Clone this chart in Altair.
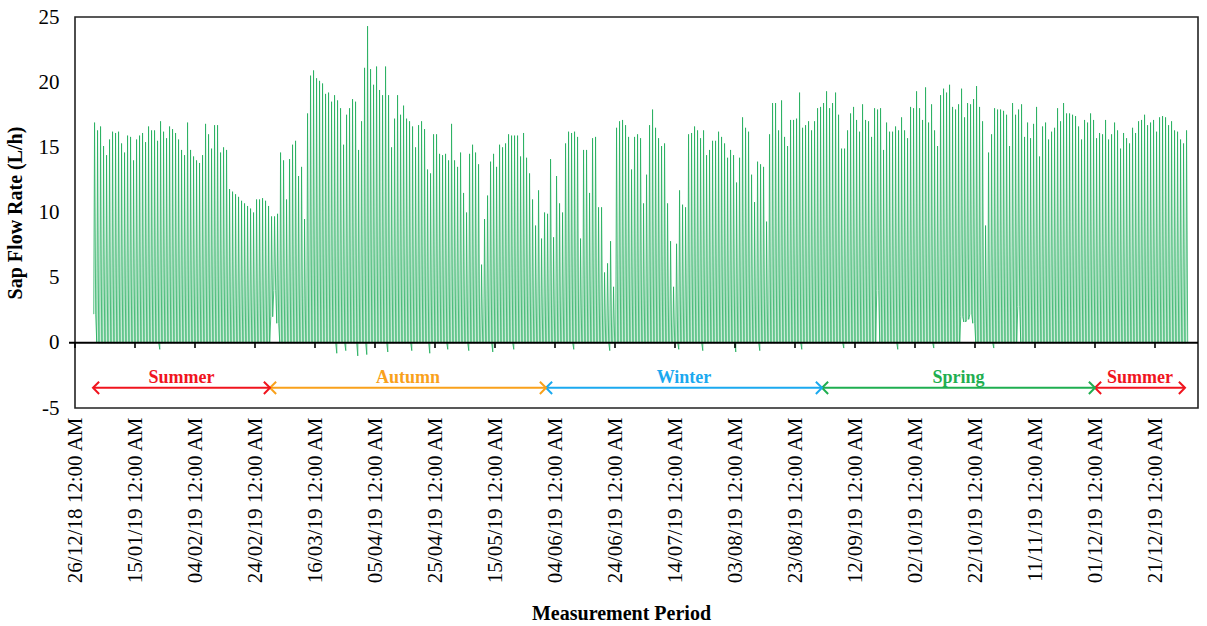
import altair as alt
import pandas as pd

# ---------------- data ----------------
# daily peak sap flow (L/h), 01/01/2019 ... 31/12/2019
peaks = [
    16.9, 16.3, 16.6, 15.1, 14.4, 15.6, 16.2, 16.1, 16.2, 15.3,
    14.6, 15.9, 15.8, 14.0, 15.6, 15.9, 16.1, 15.4, 16.6, 16.3,
    16.3, 15.5, 17.0, 16.2, 15.7, 16.6, 16.4, 16.1, 15.6, 14.8,
    14.4, 16.9, 14.8, 14.3, 14.0, 13.8, 14.4, 16.8, 16.0, 14.9,
    16.7, 16.7, 14.6, 15.0, 14.8, 11.8, 11.6, 11.4, 11.2, 10.9,
    10.7, 10.5, 10.3, 10.0, 11.0, 11.0, 11.1, 10.9, 10.5, 9.7,
    9.7, 9.9, 14.6, 14.0, 11.0, 14.1, 15.2, 15.5, 12.8, 13.5,
    9.5, 17.6, 20.5, 20.9, 20.3, 20.1, 19.9, 19.1, 19.2, 18.5,
    19.0, 18.6, 18.0, 15.2, 17.5, 18.0, 18.7, 18.5, 14.8, 17.0,
    21.1, 24.3, 21.0, 19.8, 21.2, 19.4, 19.0, 21.2, 19.0, 15.0,
    17.2, 19.0, 17.5, 18.2, 17.2, 17.0, 16.6, 15.0, 16.7, 17.0,
    16.4, 13.3, 13.0, 16.0, 16.0, 14.5, 14.4, 14.5, 14.0, 16.8,
    14.0, 13.5, 14.6, 11.5, 10.0, 14.5, 15.2, 14.6, 13.7, 6.0,
    9.5, 11.3, 13.9, 14.5, 13.5, 15.2, 15.0, 15.3, 16.0, 15.9,
    15.9, 15.9, 14.3, 16.1, 14.2, 13.0, 11.0, 9.0, 11.7, 8.0,
    10.0, 9.9, 14.1, 8.1, 12.8, 10.7, 10.0, 15.3, 16.2, 16.1,
    16.2, 15.8, 8.0, 14.8, 14.8, 11.5, 15.7, 15.8, 10.4, 10.4,
    5.4, 6.1, 7.8, 4.3, 16.5, 17.0, 17.1, 16.7, 15.8, 13.3,
    15.8, 16.0, 15.7, 10.7, 12.9, 16.7, 17.9, 16.5, 15.7, 15.1,
    15.3, 10.7, 7.8, 4.3, 7.6, 11.7, 10.6, 10.4, 16.0, 16.1,
    16.6, 16.3, 15.7, 16.3, 14.4, 14.8, 15.5, 15.5, 16.2, 15.8,
    15.3, 14.2, 14.8, 14.4, 12.3, 14.2, 17.3, 16.5, 16.2, 12.9,
    10.8, 13.9, 13.7, 13.5, 9.3, 16.0, 18.4, 18.4, 16.3, 18.6,
    15.8, 15.1, 17.1, 17.1, 17.2, 19.2, 16.5, 16.7, 17.0, 16.3,
    17.0, 18.0, 18.1, 18.4, 19.3, 18.0, 18.4, 19.2, 17.5, 14.9,
    14.9, 16.3, 17.6, 18.1, 17.1, 16.2, 18.3, 17.1, 17.0, 15.8,
    18.0, 17.9, 18.0, 14.8, 16.9, 16.2, 16.2, 16.6, 16.3, 17.3,
    16.3, 15.7, 18.1, 18.0, 19.3, 18.0, 17.1, 19.6, 16.9, 18.3,
    16.3, 15.1, 19.0, 19.5, 19.2, 19.8, 18.1, 17.9, 18.3, 19.5,
    17.3, 18.4, 18.3, 18.7, 19.7, 18.1, 17.0, 9.0, 14.6, 16.0,
    18.0, 17.9, 17.9, 17.8, 17.5, 15.1, 18.4, 17.5, 17.9, 18.3,
    15.8, 16.9, 15.7, 16.8, 18.1, 14.3, 16.6, 16.9, 15.6, 16.2,
    16.5, 18.0, 17.0, 18.4, 17.6, 17.6, 17.5, 17.4, 16.6, 15.6,
    17.1, 16.9, 17.6, 17.1, 15.7, 16.1, 16.0, 17.1, 15.6, 16.0,
    16.9, 16.3, 14.9, 16.1, 15.7, 15.3, 16.5, 16.1, 17.0, 17.1,
    17.5, 16.7, 16.9, 17.1, 16.2, 17.3, 17.4, 17.3, 16.7, 17.0,
    16.3, 16.2, 15.6, 15.3, 16.3,
]
# night-time minimum (L/h) where it differs from ~0 (day index -> value)
trough_days = [0, 22, 59, 60, 61, 81, 84, 88, 91, 98, 106, 112, 118, 125, 133,
               140, 160, 172, 195, 203, 214, 222, 236, 250, 261, 268, 280,
               289, 290, 291, 292, 293, 300, 308]
trough_vals = [2.2, -0.5, 2.0, 4.0, 1.5, -0.8, -0.6, -1.0, -0.9, -0.7, -0.6, -0.8, -0.5, -0.6, -0.7,
               -0.5, -0.5, -0.6, -0.5, -0.6, -0.7, -0.6, -0.5, -0.4, 4.0, -0.5, -0.4,
               2.0, 1.6, 1.8, 2.2, 1.5, -0.4, 2.8]

tick_dates = ["2018-12-26", "2019-01-15", "2019-02-04", "2019-02-24", "2019-03-16",
              "2019-04-05", "2019-04-25", "2019-05-15", "2019-06-04", "2019-06-24",
              "2019-07-14", "2019-08-03", "2019-08-23", "2019-09-12", "2019-10-02",
              "2019-10-22", "2019-11-11", "2019-12-01", "2019-12-21"]

season_names = ["Summer", "Autumn", "Winter", "Spring", "Summer"]
season_start = ["2019-01-01", "2019-03-01", "2019-06-01", "2019-09-01", "2019-12-01"]
season_end = ["2019-03-01", "2019-06-01", "2019-09-01", "2019-12-01", "2019-12-31"]
season_colors = ["#f0141e", "#f9a11b", "#1ba9ef", "#1fae50", "#f0141e"]

# ---------------- table building ----------------
DAY = 86400000


def ms(s):
    return int(pd.Timestamp(s, tz="UTC").value // 10**6)


troughs = dict(zip(trough_days, trough_vals))
t0 = ms("2019-01-01")
rows = []
for d, p in enumerate(peaks):
    base = t0 + d * DAY
    lo = troughs.get(d, 0.0)
    lo_eve = lo if lo > 0 else 0.0   # negative dips are brief, only at dawn
    rows.append({"t": base + int(0.26 * DAY), "v": lo})
    rows.append({"t": base + int(0.52 * DAY), "v": p})
    rows.append({"t": base + int(0.90 * DAY), "v": lo_eve})
flow = pd.DataFrame(rows)

ticks_df = pd.DataFrame({"t": [ms(s) for s in tick_dates], "y0": 0.0, "y1": -0.4})

seasons = pd.DataFrame({
    "name": season_names,
    "s": [ms(s) for s in season_start],
    "e": [ms(s) for s in season_end],
    "c": season_colors,
})
seasons["m"] = (seasons["s"] + seasons["e"]) / 2
seasons["ya"] = -3.45
seasons["yt"] = -3.05

W, H = 1123, 391
xscale = alt.Scale(type="utc", domain=[ms("2018-12-26"), ms("2020-01-04T08:00")])
yscale = alt.Scale(domain=[-5, 25], nice=False, zero=False)

xaxis = alt.Axis(
    values=[ms(s) for s in tick_dates],
    labelExpr="utcFormat(datum.value, '%d/%m/%y') + ' 12:00 AM'",
    labelAngle=270, labelFontSize=21, labelPadding=9, ticks=False, domain=False,
    grid=False, labelColor="black", labelOverlap=False,
    titleFontSize=20, titleFontWeight="bold", titleColor="black",
    titleX=546, titleY=211, titleBaseline="alphabetic", titleAlign="center",
)
yaxis = alt.Axis(
    values=[-5, 0, 5, 10, 15, 20, 25], labelFontSize=21, labelPadding=16,
    labelExpr="replace(datum.label, '\u2212', '-')",
    ticks=False, domain=False, grid=False, labelColor="black",
    titleFontSize=20, titleFontWeight="bold", titleColor="black", titlePadding=13,
)

line = alt.Chart(flow).mark_line(color="#22ad5c", strokeWidth=0.9, opacity=0.9).encode(
    x=alt.X("t:T", scale=xscale, axis=xaxis, title="Measurement Period"),
    y=alt.Y("v:Q", scale=yscale, axis=yaxis, title="Sap Flow Rate (L/h)"),
)

zero = alt.Chart(pd.DataFrame({"z": [0.0]})).mark_rule(color="black", strokeWidth=2).encode(
    y=alt.Y("z:Q"), x=alt.value(-6), x2=alt.value(W)
)

tickmarks = alt.Chart(ticks_df).mark_rule(color="black", strokeWidth=1.6).encode(
    x=alt.X("t:T"), y=alt.Y("y0:Q"), y2="y1"
)

arrows = alt.Chart(seasons).mark_rule(strokeWidth=2).encode(
    x=alt.X("s:T"), x2="e", y=alt.Y("ya:Q"), color=alt.Color("c:N", scale=None)
)
left_heads = alt.Chart(seasons).mark_point(
    shape="M 1 -1 L 0 0 L 1 1", size=150, filled=False, strokeWidth=2, opacity=1
).encode(x=alt.X("s:T"), y=alt.Y("ya:Q"), color=alt.Color("c:N", scale=None))
right_heads = alt.Chart(seasons).mark_point(
    shape="M -1 -1 L 0 0 L -1 1", size=150, filled=False, strokeWidth=2, opacity=1
).encode(x=alt.X("e:T"), y=alt.Y("ya:Q"), color=alt.Color("c:N", scale=None))
labels = alt.Chart(seasons).mark_text(
    font="Liberation Serif", fontWeight="bold", fontSize=18, baseline="alphabetic", align="center"
).encode(x=alt.X("m:T"), y=alt.Y("yt:Q"), text="name:N", color=alt.Color("c:N", scale=None))

chart = alt.layer(line, zero, tickmarks, arrows, left_heads, right_heads, labels).properties(
    width=W, height=H,
    autosize=alt.AutoSizeParams(type="none"),
    padding={"left": 75, "top": 17, "right": 9, "bottom": 218},
    background="white",
).configure_view(stroke="#222222", strokeWidth=1.6).configure_axis(
    labelFont="Liberation Serif", titleFont="Liberation Serif"
)

chart.save("out.html", embed_options={"renderer": "svg", "actions": False})
